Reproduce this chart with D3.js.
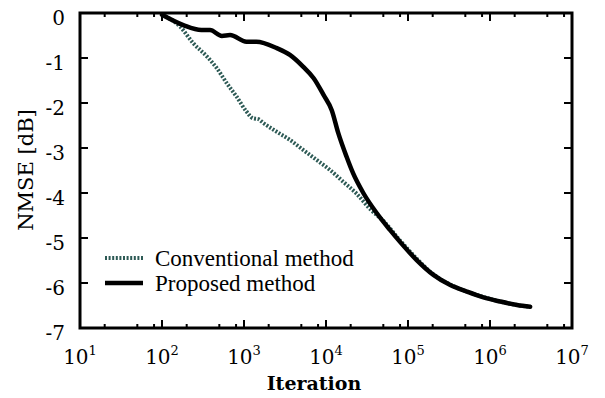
<!DOCTYPE html>
<html>
<head>
<meta charset="utf-8">
<title>NMSE</title>
<script src="https://cdn.jsdelivr.net/npm/d3@7"></script>
<style>
    body { margin: 0; background: #fff; }
    .tick-label { font-family: "DejaVu Serif", serif; font-size: 20px; fill: #000; }
    .axis-title { font-family: "DejaVu Serif", serif; fill: #000; }
    .legend-text { font-family: "Liberation Serif", "Times New Roman", serif; font-size: 23px; fill: #000; }
</style>
</head>
<body>
<script>
// iteration counts and NMSE [dB]
var propIter = [100, 182, 302, 385, 537, 676, 1072, 1413, 2512, 3631, 5248, 7079, 9333,
    11750, 14125, 17780, 21380, 28510, 41690, 60260, 79430, 127600, 204200, 323600,
    520000, 831800, 1318000, 2138000, 3090000];
var propNmse = [-0.04, -0.27, -0.38, -0.38, -0.51, -0.49, -0.64, -0.64, -0.78, -0.93, -1.19, -1.45, -1.82,
    -2.16, -2.67, -3.19, -3.56, -4.0, -4.45, -4.82, -5.08, -5.49, -5.82, -6.04,
    -6.19, -6.32, -6.41, -6.49, -6.53];

var convIter = [100, 166, 240, 355, 468, 617, 813, 1072, 1288, 1500, 1738, 2512, 3631, 5248, 7762,
    11220, 16220, 23440, 34670, 50120, 79430, 127600, 204200, 323600, 520000, 831800,
    1318000, 2138000, 3090000];
var convNmse = [-0.04, -0.30, -0.67, -0.97, -1.23, -1.56, -1.86, -2.19, -2.34, -2.36, -2.45, -2.64, -2.82, -3.04, -3.27,
    -3.49, -3.75, -4.01, -4.36, -4.62, -5.05, -5.46, -5.81, -6.03, -6.19, -6.31,
    -6.41, -6.49, -6.53];

var xExponents = [1, 2, 3, 4, 5, 6, 7];
var yTicks = [0, -1, -2, -3, -4, -5, -6, -7];
var seriesNames = ["Conventional method", "Proposed method"];

var width = 605, height = 398;
var margins = {top: 13, left: 80, right: 33, bottom: 70};

var svg = d3.select("body").append("svg")
        .attr("width", width)
        .attr("height", height);

var x = d3.scaleLog().domain([10, 1e7]).range([margins.left, width - margins.right]);
var y = d3.scaleLinear().domain([-7, 0]).range([height - margins.bottom, margins.top]);

var x0 = x.range()[0], x1 = x.range()[1], y0 = y.range()[0], y1 = y.range()[1];

// minor ticks at 2,5,8 of every decade
var minor = [];
xExponents.slice(0, -1).forEach(function (e) {
    [2, 5, 8].forEach(function (m) { minor.push(m * Math.pow(10, e)); });
});
var major = xExponents.map(function (e) { return Math.pow(10, e); });

var tickG = svg.append("g").attr("stroke", "#000").attr("stroke-width", 2);

major.forEach(function (v) {
    tickG.append("line").attr("x1", x(v)).attr("x2", x(v)).attr("y1", y0).attr("y2", y0 - 8);
    tickG.append("line").attr("x1", x(v)).attr("x2", x(v)).attr("y1", y1).attr("y2", y1 + 8);
});
minor.forEach(function (v) {
    tickG.append("line").attr("x1", x(v)).attr("x2", x(v)).attr("y1", y0).attr("y2", y0 - 4);
    tickG.append("line").attr("x1", x(v)).attr("x2", x(v)).attr("y1", y1).attr("y2", y1 + 4);
});
yTicks.forEach(function (v) {
    tickG.append("line").attr("x1", x0).attr("x2", x0 + 8).attr("y1", y(v)).attr("y2", y(v));
    tickG.append("line").attr("x1", x1).attr("x2", x1 - 8).attr("y1", y(v)).attr("y2", y(v));
});

// curves
var line = d3.line()
        .x(function (d) { return x(d[0]); })
        .y(function (d) { return y(d[1]); })
        .curve(d3.curveMonotoneX);

var convData = convIter.map(function (v, i) { return [v, convNmse[i]]; });
var propData = propIter.map(function (v, i) { return [v, propNmse[i]]; });

svg.append("path")
        .datum(convData)
        .attr("d", line)
        .attr("fill", "none")
        .attr("stroke", "#2d5a55")
        .attr("stroke-width", 4)
        .attr("stroke-dasharray", "2,1.6");

svg.append("path")
        .datum(propData)
        .attr("d", line)
        .attr("fill", "none")
        .attr("stroke", "#000")
        .attr("stroke-width", 4.5)
        .attr("stroke-linejoin", "round")
        .attr("stroke-linecap", "round");

// frame
svg.append("rect")
        .attr("x", x0).attr("y", y1)
        .attr("width", x1 - x0).attr("height", y0 - y1)
        .attr("fill", "none")
        .attr("stroke", "#000")
        .attr("stroke-width", 3);

// y tick labels (sit a little below their ticks, as in the source)
svg.selectAll("text.ylab")
        .data(yTicks)
        .enter().append("text")
        .attr("class", "tick-label ylab")
        .attr("x", x0 - 15)
        .attr("y", function (d) { return y(d) + 12; })
        .attr("text-anchor", "end")
        .text(function (d) { return d; });

// x tick labels 10^n
var xl = svg.selectAll("text.xlab")
        .data(xExponents)
        .enter().append("text")
        .attr("class", "tick-label xlab")
        .attr("x", function (d) { return x(Math.pow(10, d)); })
        .attr("y", y0 + 36)
        .attr("text-anchor", "middle");
xl.append("tspan").text("10");
xl.append("tspan")
        .attr("dy", -9)
        .attr("font-size", 13)
        .text(function (d) { return d; });

svg.append("text")
        .attr("class", "axis-title")
        .attr("x", 314)
        .attr("y", y0 + 62)
        .attr("text-anchor", "middle")
        .attr("font-weight", "bold")
        .attr("font-size", 19)
        .text("Iteration");

svg.append("text")
        .attr("class", "axis-title")
        .attr("transform", "translate(" + 33 + "," + 170 + ") rotate(-90)")
        .attr("text-anchor", "middle")
        .attr("font-size", 21)
        .text("NMSE [dB]");

// legend
var legend = svg.append("g").attr("transform", "translate(105,258)");
legend.append("line")
        .attr("x1", 0).attr("x2", 38).attr("y1", 0).attr("y2", 0)
        .attr("stroke", "#2d5a55").attr("stroke-width", 4)
        .attr("stroke-dasharray", "2,1.6");
legend.append("line")
        .attr("x1", 0).attr("x2", 38).attr("y1", 25).attr("y2", 25)
        .attr("stroke", "#000").attr("stroke-width", 4.5);
legend.selectAll("text")
        .data(seriesNames)
        .enter().append("text")
        .attr("class", "legend-text")
        .attr("x", 50)
        .attr("y", function (d, i) { return i * 25 + 8; })
        .text(function (d) { return d; });
</script>
</body>
</html>
